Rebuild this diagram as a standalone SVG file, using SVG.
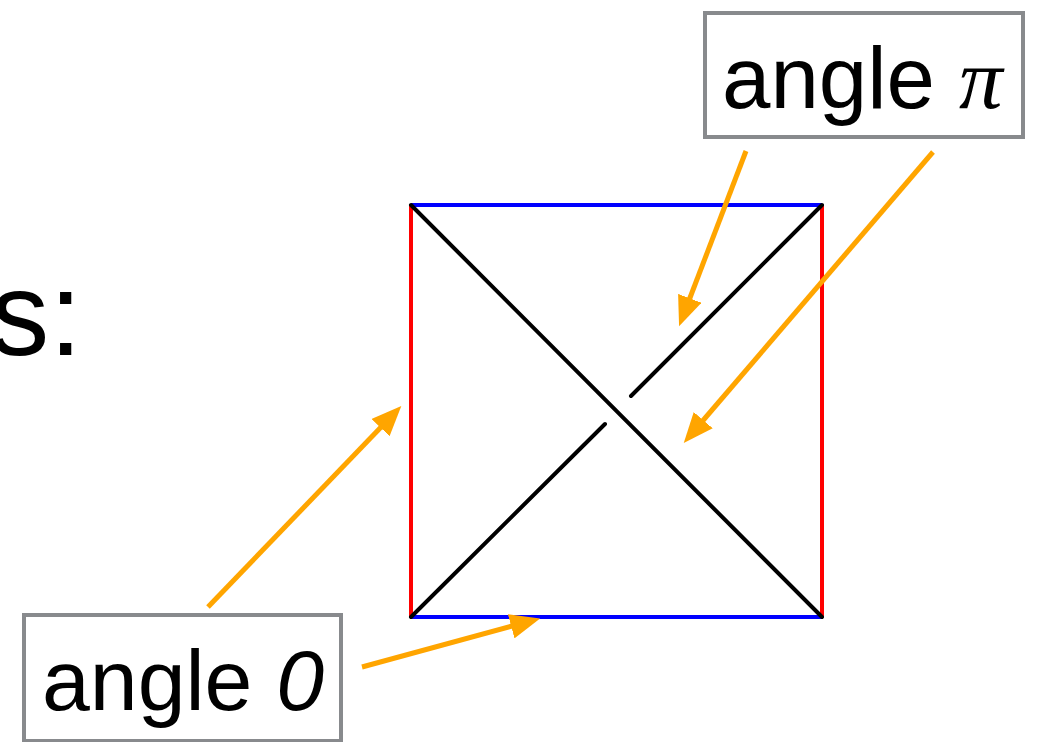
<svg xmlns="http://www.w3.org/2000/svg" width="1045" height="742" viewBox="0 0 1045 742">
<style>
.lbl{font-family:"Liberation Sans",Arial,sans-serif;fill:#000}
.box{fill:#fff;stroke:#888a8d;stroke-width:4}
.arr{stroke:#FFA500;stroke-width:5;fill:none;marker-end:url(#ah)}
.blue{stroke:#0000ff;stroke-width:4}
.red{stroke:#ff0000;stroke-width:4}
.blk{stroke:#000;stroke-width:4;stroke-linecap:round}
</style>
<defs>
<marker id="ah" markerWidth="6" markerHeight="5" refX="1" refY="2.5" orient="auto" markerUnits="strokeWidth">
<path d="M0,0 L6,2.5 L0,5 Z" fill="#FFA500"/>
</marker>
</defs>
<rect width="1045" height="742" fill="#fff"/>
<text class="lbl" x="82" y="355" font-size="118" text-anchor="end">s:</text>
<g id="square">
<line class="blue" x1="411" y1="205" x2="822" y2="205"/>
<line class="blue" x1="411" y1="617" x2="822" y2="617"/>
<line class="red" x1="411" y1="205" x2="411" y2="617"/>
<line class="red" x1="822" y1="205" x2="822" y2="617"/>
<line class="blk" x1="411" y1="205" x2="822" y2="617"/>
<line class="blk" x1="411" y1="617" x2="605" y2="424"/>
<line class="blk" x1="631" y1="396" x2="822" y2="205"/>
</g>
<g id="connectors">
<line class="arr" x1="746" y1="151" x2="688" y2="303"/>
<line class="arr" x1="933" y1="152" x2="700" y2="424"/>
<line class="arr" x1="208" y1="607" x2="384" y2="424"/>
<line class="arr" x1="362" y1="667" x2="516" y2="625"/>
</g>
<g id="node-pi">
<rect class="box" x="705" y="13" width="318" height="124"/>
<text class="lbl" x="722" y="108" font-size="87">angle <tspan font-family="Liberation Serif,serif" font-style="italic">π</tspan></text>
</g>
<g id="node-0">
<rect class="box" x="24" y="615" width="317" height="126"/>
<text class="lbl" x="42" y="710" font-size="86">angle <tspan font-style="italic">0</tspan></text>
</g>
</svg>
